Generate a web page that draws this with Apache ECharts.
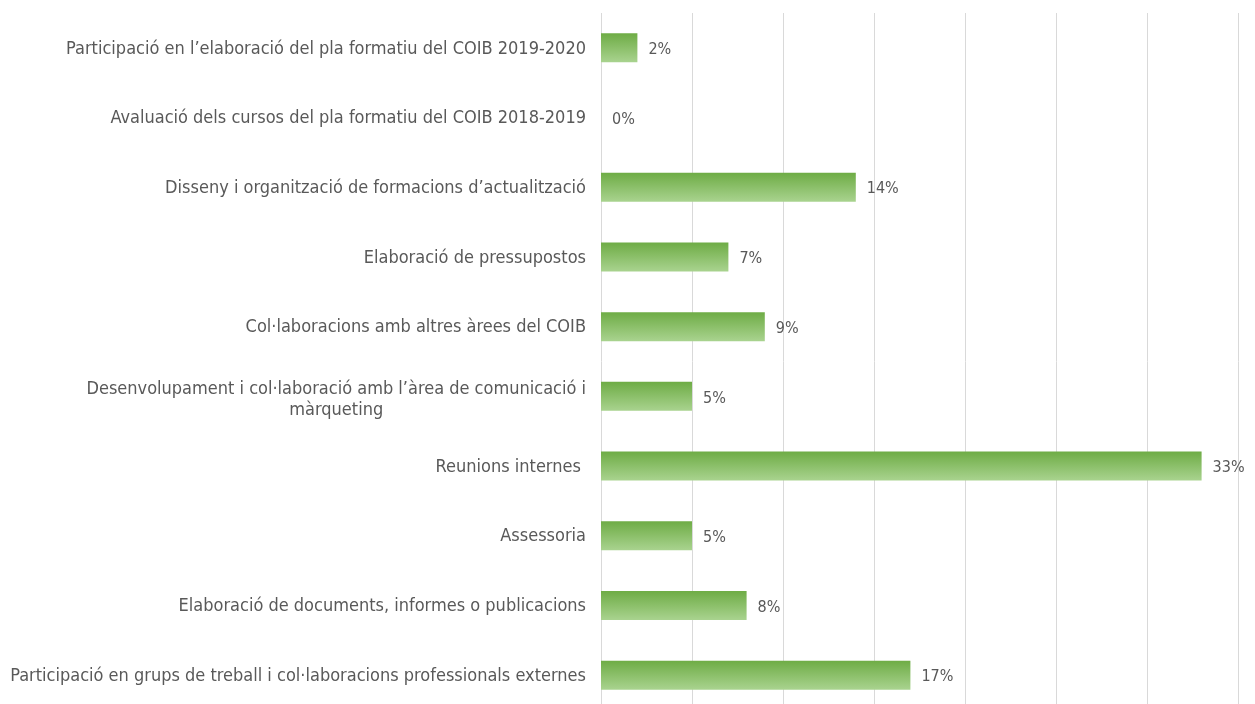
<!DOCTYPE html>
<html style="height: 100%">
  <head>
    <meta charset="utf-8" />
    <title>Activitats</title>
    <script src="https://cdn.jsdelivr.net/npm/echarts@6/dist/echarts.min.js"></script>
  </head>
  <body style="height: 100%; margin: 0; background: #fff; overflow: hidden">
    <div id="container" style="width: 1255px; height: 720px"></div>
    <script type="text/javascript">
      // categories, top to bottom
      let categories = [
        "Participació en l’elaboració del pla formatiu del COIB 2019-2020",
        "Avaluació dels cursos del pla formatiu del COIB 2018-2019",
        "Disseny i organització de formacions d’actualització",
        "Elaboració de pressupostos",
        "Col·laboracions amb altres àrees del COIB",
        "Desenvolupament i col·laboració amb l’àrea de comunicació i\nmàrqueting",
        "Reunions internes ",
        "Assessoria",
        "Elaboració de documents, informes o publicacions",
        "Participació en grups de treball i col·laboracions professionals externes",
      ];
      // percentages
      let values = [2, 0, 14, 7, 9, 5, 33, 5, 8, 17];

      let textColor = "#595959";
      let fontName = "'DejaVu Sans Condensed', 'DejaVu Sans', sans-serif";

      // the plot runs a little past the bottom of the window, so the div is taller
      let chart = echarts.init(document.getElementById("container"));
      chart.setOption({
        animation: false,
        grid: { left: 601, top: 13, width: 637, height: 697, containLabel: false },
        xAxis: {
          type: "value",
          min: 0,
          max: 35,
          interval: 5,
          axisLabel: { show: false },
          axisLine: { show: false },
          axisTick: { show: false },
          splitLine: { lineStyle: { color: "#d9d9d9", width: 1 } },
        },
        yAxis: {
          type: "category",
          inverse: true,
          data: categories,
          axisLine: { show: false },
          axisTick: { show: false },
          axisLabel: {
            margin: 15,
            color: textColor,
            fontFamily: fontName,
            fontSize: 18,
            lineHeight: 21,
            padding: [2, 0, 0, 0],
            formatter: function (v) {
              return v.indexOf("\n") >= 0 ? "{c|" + v.split("\n").join("}\n{c|") + "}" : v;
            },
            rich: {
              c: { align: "center", color: textColor, fontFamily: fontName, fontSize: 18, lineHeight: 21, padding: [4, 0, 0, 0] },
            },
          },
        },
        series: [
          {
            type: "bar",
            data: values,
            barWidth: 29,
            itemStyle: {
              color: new echarts.graphic.LinearGradient(0, 0, 0, 1, [
                { offset: 0, color: "#6eac45" },
                { offset: 1, color: "#a9d38f" },
              ]),
            },
            label: {
              show: true,
              position: "right",
              distance: 11,
              color: textColor,
              fontFamily: fontName,
              fontSize: 16,
              offset: [0, 2],
              formatter: "{c}%",
            },
          },
        ],
      });
    </script>
  </body>
</html>
